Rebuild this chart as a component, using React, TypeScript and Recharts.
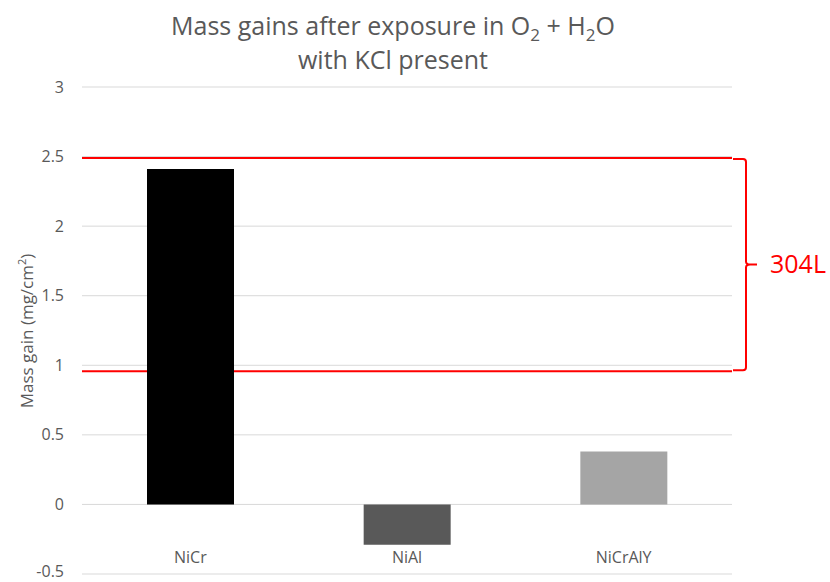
import React from 'react';
import { BarChart, Bar, XAxis, YAxis, CartesianGrid, Cell, ReferenceArea } from 'recharts';

const categories = ['NiCr', 'NiAl', 'NiCrAlY'];
const massGain = [2.41, -0.29, 0.38];
const barColors = ['#000000', '#595959', '#a5a5a5'];
const yTicks = [-0.5, 0, 0.5, 1, 1.5, 2, 2.5, 3];
const range304L = [0.957, 2.49];
const rangeLabel = '304L';

const data = categories.map((c, i) => ({ name: c, value: massGain[i] }));

const FONT = '"Open Sans", "Noto Sans", sans-serif';
const GREY = '#595959';

const renderCategoryTick = (props: any) => {
  const { x, y, payload } = props;
  return (
    <text x={x} y={y - 17} dy="0.35em" textAnchor="middle" fill={GREY} fontSize={16} fontFamily={FONT}>
      {payload.value}
    </text>
  );
};

const renderValueTick = (props: any) => {
  const { x, y, payload } = props;
  const baseline = Math.min(y + 5.6, 577);
  return (
    <text x={x} y={baseline} textAnchor="end" fill={GREY} fontSize={16} fontFamily={FONT}>
      {String(payload.value)}
    </text>
  );
};

const BracketShape = (props: any) => {
  const { x, y, width, height } = props;
  const right = x + width;
  const bx = right + 14;
  const mid = y + height / 2;
  return (
    <g>
      <line x1={x} y1={y} x2={right} y2={y} stroke="#ff0000" strokeWidth={2} />
      <line x1={x} y1={y + height} x2={right} y2={y + height} stroke="#ff0000" strokeWidth={2} />
      <path
        d={`M ${right + 1} ${y + 1} L ${bx - 3} ${y + 1} Q ${bx} ${y + 1} ${bx} ${y + 4} L ${bx} ${mid - 3} Q ${bx} ${mid} ${bx + 4} ${mid} L ${bx + 11} ${mid} M ${bx + 4} ${mid} Q ${bx} ${mid} ${bx} ${mid + 3} L ${bx} ${y + height - 4} Q ${bx} ${y + height - 1} ${bx - 3} ${y + height - 1} L ${right + 1} ${y + height - 1}`}
        fill="none"
        stroke="#ff0000"
        strokeWidth={2}
      />
      <text x={right + 38} y={mid} dy="0.35em" fill="#ff0000" fontSize={25} fontFamily={FONT}>
        {rangeLabel}
      </text>
    </g>
  );
};

export default function App() {
  return (
    <div style={{ position: 'absolute', left: 0, top: 0, width: 830, height: 582, background: '#fff', fontFamily: FONT }}>
      <div
        style={{
          position: 'absolute',
          left: 393 - 300,
          width: 600,
          top: 8,
          textAlign: 'center',
          color: GREY,
          fontSize: 25,
          lineHeight: '34px',
        }}
      >
        <div>
          Mass gains after exposure in O<sub style={{ fontSize: 17, lineHeight: 0 }}>2</sub> + H
          <sub style={{ fontSize: 17, lineHeight: 0 }}>2</sub>O
        </div>
        <div>with KCl present</div>
      </div>
      <BarChart
        width={830}
        height={582}
        data={data}
        margin={{ top: 87, right: 98, bottom: 7, left: 32 }}
        barCategoryGap="30%"
      >
        <CartesianGrid vertical={false} stroke="#d9d9d9" strokeWidth={1} />
        <XAxis
          dataKey="name"
          height={1}
          tickSize={0}
          tickMargin={0}
          axisLine={false}
          tick={renderCategoryTick}
          interval={0}
        />
        <YAxis
          type="number"
          domain={[-0.5, 3]}
          ticks={yTicks}
          interval={0}
          width={50}
          tickSize={0}
          tickMargin={18}
          axisLine={false}
          tick={renderValueTick}
        />
        <ReferenceArea
          y1={range304L[0]}
          y2={range304L[1]}
          ifOverflow="visible"
          shape={<BracketShape />}
        />
        <Bar dataKey="value" isAnimationActive={false}>
          {data.map((d, i) => (
            <Cell key={d.name} fill={barColors[i]} />
          ))}
        </Bar>
      </BarChart>
      <div
        style={{
          position: 'absolute',
          left: 26,
          top: 331,
          transform: 'translate(-50%, -50%) rotate(-90deg)',
          whiteSpace: 'nowrap',
          color: GREY,
          fontSize: 17,
        }}
      >
        Mass gain (mg/cm<sup style={{ fontSize: 11, lineHeight: 0 }}>2</sup>)
      </div>
    </div>
  );
}
